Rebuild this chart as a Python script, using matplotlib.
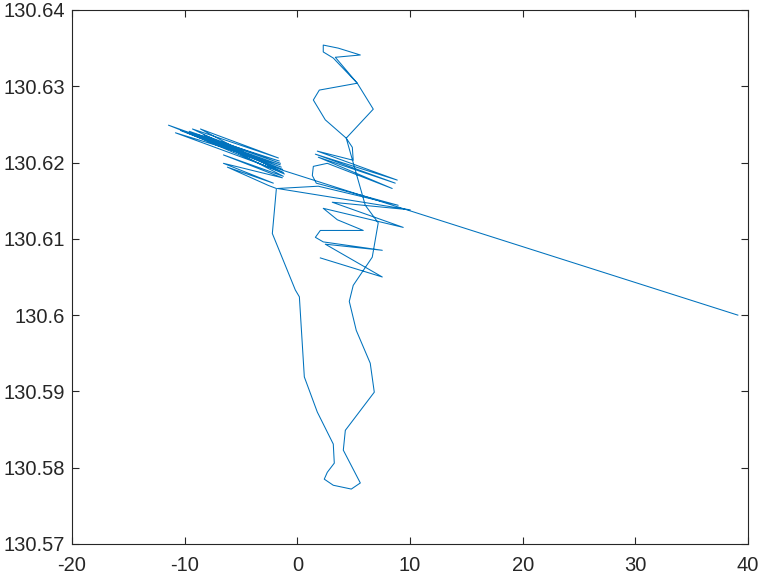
import matplotlib
matplotlib.use("Agg")
import matplotlib.pyplot as plt
import numpy as np

# track, in plot order
# (starts with the outlier fix far right, then the dense band on the left)
lon = [39.10,
       -1.33, -11.44, -1.51, -10.82, -1.24, -9.31, -1.68, -8.60, -1.15, -9.93,
       -1.42, -8.95, -1.60, -10.37, -1.30, -9.60, -1.50, -8.30, -1.24, -6.56,
       -1.33, -6.56, -2.13, -6.21, -2.57, -1.86,
       -2.22, -0.18, 0.18, 0.62, 1.77, 3.19, 3.28, 2.66, 2.39, 3.19, 4.79, 5.59,
       4.08, 4.26, 6.83, 6.47, 5.23, 4.61, 4.96, 6.65, 7.18, 6.03, 4.34,
       2.48, 1.42, 1.95, 5.32, 3.19, 2.30, 2.30, 3.63, 5.59, 3.37, 5.32, 6.74,
       4.34, 4.88, 4.96,
       1.77, 8.87, 1.60, 8.69, 1.86, 8.42, 2.66, 1.42, 1.33, 1.68, 8.95, 1.86,
       -1.77, 10.02, 3.10, 9.40,
       2.30, 3.55, 5.85, 2.04, 1.60, 2.30, 7.54, 2.48, 7.54, 2.04]
lat = [130.6000,
       130.6190, 130.6249, 130.6197, 130.6239, 130.6187, 130.6244, 130.6206,
       130.6244, 130.6185, 130.6240, 130.6194, 130.6237, 130.6202, 130.6242,
       130.6191, 130.6241, 130.6199, 130.6236, 130.6182, 130.6210, 130.6180,
       130.6199, 130.6173, 130.6194, 130.6170, 130.6166,
       130.6107, 130.6033, 130.6024, 130.5919, 130.5873, 130.5831, 130.5806,
       130.5794, 130.5785, 130.5777, 130.5772, 130.5780, 130.5823, 130.5849,
       130.5899, 130.5937, 130.5980, 130.6018, 130.6039, 130.6076, 130.6121,
       130.6144, 130.6232,
       130.6256, 130.6282, 130.6295, 130.6304, 130.6337, 130.6345, 130.6354,
       130.6350, 130.6341, 130.6338, 130.6304, 130.6270, 130.6232, 130.6220,
       130.6203,
       130.6215, 130.6177, 130.6211, 130.6173, 130.6207, 130.6166, 130.6199,
       130.6195, 130.6183, 130.6173, 130.6144, 130.6169,
       130.6166, 130.6138, 130.6148, 130.6115,
       130.6140, 130.6125, 130.6111, 130.6111, 130.6102, 130.6096, 130.6085,
       130.6093, 130.6050, 130.6075]

xticks = [-20, -10, 0, 10, 20, 30, 40]
yticks = [130.57, 130.58, 130.59, 130.6, 130.61, 130.62, 130.63, 130.64]
ytick_labels = ['130.57', '130.58', '130.59', '130.6', '130.61', '130.62', '130.63', '130.64']

plt.rcParams['font.family'] = ['Liberation Sans', 'DejaVu Sans']
fig = plt.figure(figsize=(7.63, 5.77), dpi=100)
ax = fig.add_axes([0.0944, 0.0572, 0.8859, 0.9255])

ax.plot(lon, lat, color='#0072BD', linewidth=0.75)

ax.set_xlim(-20, 40)
ax.set_ylim(130.57, 130.64)
ax.set_xticks(xticks)
ax.set_xticklabels([str(t) for t in xticks])
ax.set_yticks(yticks)
ax.set_yticklabels(ytick_labels)

for s in ax.spines.values():
    s.set_color('#262626')
    s.set_linewidth(0.8)
ax.tick_params(direction='in', length=5, width=0.8, colors='#262626',
               labelsize=14.5, top=True, right=True)
ax.tick_params(axis='x', pad=9)
ax.tick_params(axis='y', pad=5)

fig.savefig('out.png', dpi=100, facecolor='white')
